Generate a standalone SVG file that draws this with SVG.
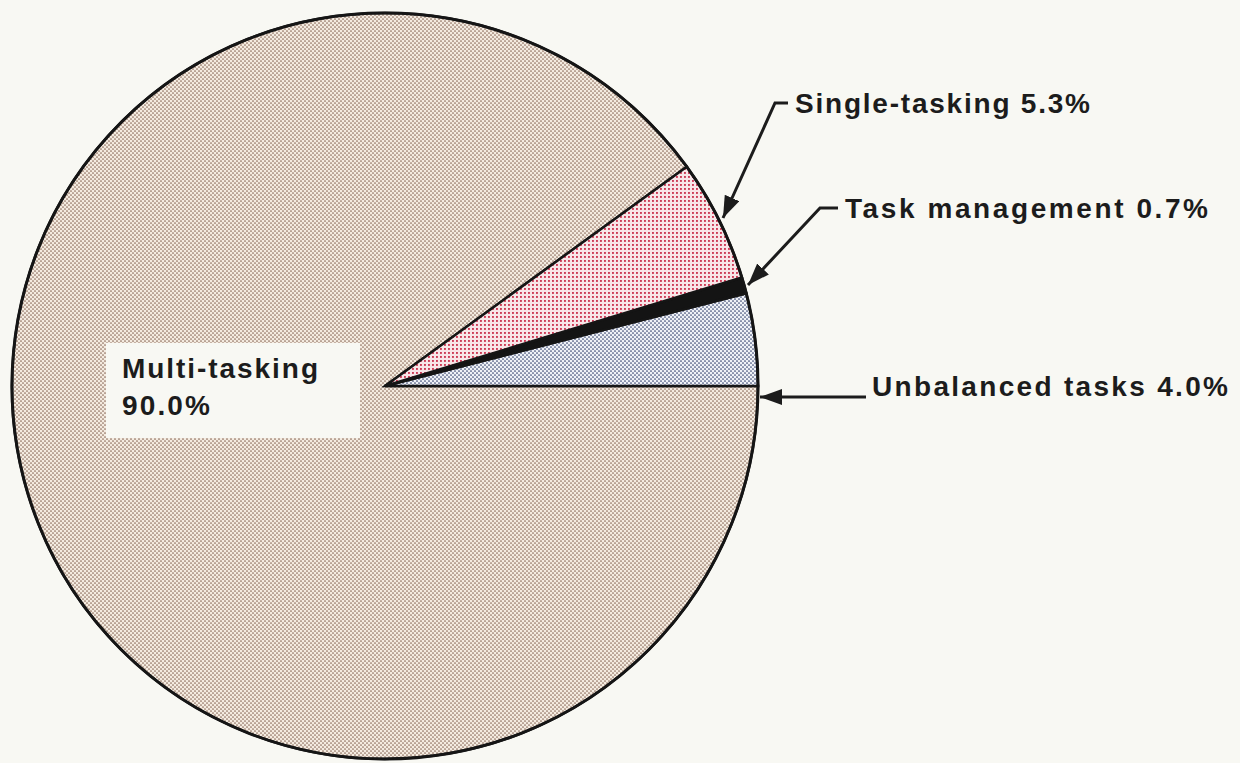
<svg xmlns="http://www.w3.org/2000/svg" width="1240" height="763" viewBox="0 0 1240 763">
<style>
.lbl{font-family:"Liberation Sans",Arial,sans-serif;font-weight:bold;font-size:28px;fill:#1c1c1c}
.lead{fill:none;stroke:#1c1c1c;stroke-width:3}
.edge{stroke:#151515;stroke-width:2.5}
</style>
<defs>
<pattern id="pMulti" width="4" height="4" patternUnits="userSpaceOnUse">
<rect width="4" height="4" fill="#f4ebe0"/>
<circle cx="1" cy="1" r="0.85" fill="#8a6a5a"/>
<circle cx="3" cy="3" r="0.85" fill="#8a6a5a"/>
</pattern>
<pattern id="pSingle" width="4" height="4" patternUnits="userSpaceOnUse">
<rect width="4" height="4" fill="#f8e6e8"/>
<rect x="0" y="0" width="1.9" height="1.9" fill="#cc3a55"/>
</pattern>
<pattern id="pUnbal" width="4" height="4" patternUnits="userSpaceOnUse">
<rect width="4" height="4" fill="#f0f2f7"/>
<circle cx="1" cy="1" r="0.85" fill="#36446e"/>
<circle cx="3" cy="3" r="0.85" fill="#36446e"/>
</pattern>
<marker id="arr" markerUnits="userSpaceOnUse" markerWidth="24" markerHeight="18" refX="22" refY="8" orient="auto">
<path d="M0,0 L22,8 L0,16 Z" fill="#1c1c1c"/>
</marker>
</defs>
<rect width="1240" height="763" fill="#f8f8f3"/>
<g id="slice-multi">
<path class="edge" d="M385,386 L686.76,166.75 A373,373 0 1 0 758,386 Z" fill="url(#pMulti)"/>
</g>
<g id="slice-unbalanced">
<path class="edge" d="M385,386 L758,386 A373,373 0 0 0 746.28,293.24 Z" fill="url(#pUnbal)"/>
</g>
<g id="slice-taskmgmt">
<path class="edge" d="M385,386 L746.28,293.24 A373,373 0 0 0 741.86,277.43 Z" fill="#141414"/>
</g>
<g id="slice-single">
<path class="edge" d="M385,386 L741.86,277.43 A373,373 0 0 0 686.76,166.75 Z" fill="url(#pSingle)"/>
</g>
<circle cx="385" cy="386" r="373" fill="none" stroke="#151515" stroke-width="3"/>
<g id="label-multi">
<rect x="106" y="343" width="254" height="95" fill="#f8f8f3"/>
<text class="lbl" x="122" y="378" textLength="196" lengthAdjust="spacing">Multi-tasking</text>
<text class="lbl" x="122" y="415" textLength="88" lengthAdjust="spacing">90.0%</text>
</g>
<g id="connectors">
<path class="lead" d="M788,103 L775,103 L723,218" marker-end="url(#arr)"/>
<path class="lead" d="M838,208 L820,208 L748,285" marker-end="url(#arr)"/>
<path class="lead" d="M866,397 L760,397" marker-end="url(#arr)"/>
</g>
<g id="label-single">
<text class="lbl" x="795" y="113" textLength="295" lengthAdjust="spacing">Single-tasking 5.3%</text>
</g>
<g id="label-taskmgmt">
<text class="lbl" x="845" y="218" textLength="363" lengthAdjust="spacing">Task management 0.7%</text>
</g>
<g id="label-unbalanced">
<text class="lbl" x="872" y="396" textLength="356" lengthAdjust="spacing">Unbalanced tasks 4.0%</text>
</g>
</svg>
